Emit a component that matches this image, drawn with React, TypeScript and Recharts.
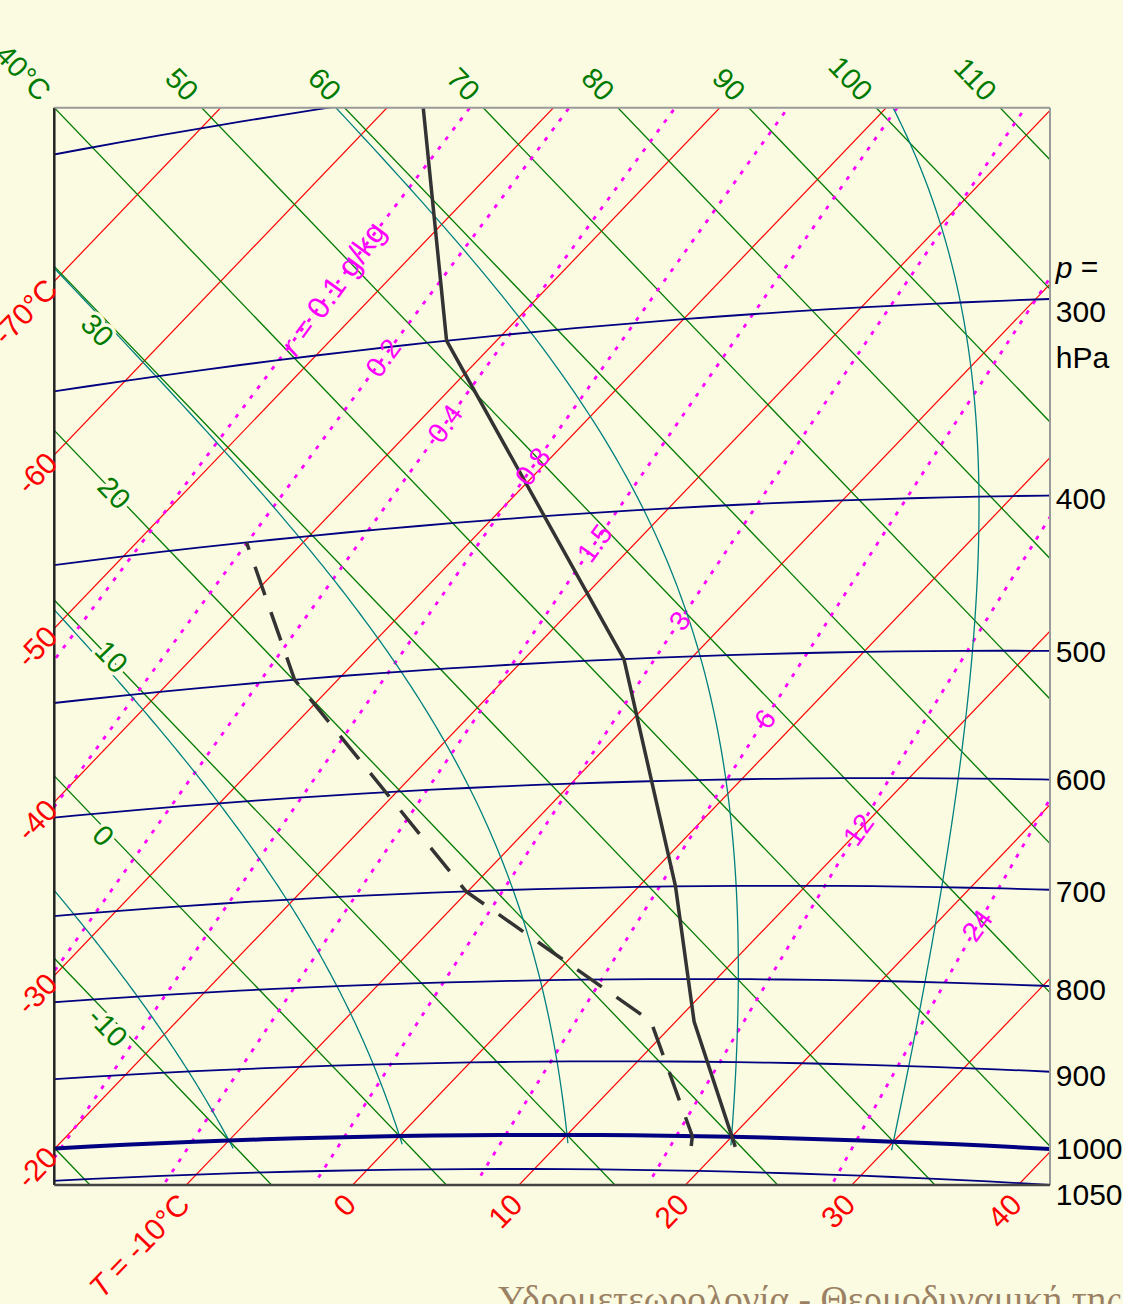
import React from 'react'
import { ComposedChart, Line, XAxis, YAxis, ReferenceLine, ReferenceDot } from 'recharts'

const BG = '#fbfbe2'
const FONT = '"Liberation Sans", Arial, sans-serif'

// tephigram projection: x = T + k ln(theta/theta0), y = T - k ln(theta/theta0)
const KAPPA = 0.2857
const THETA_REF = 313.15
const STRETCH = 281.73

// window in skewed units, upper-left corner is T = -80 °C on theta = 40 °C
const X_DOMAIN: [number, number] = [-80, 39.68]
const Y_DOMAIN: [number, number] = [-80, 44.14]

// background families
const isotherms = [-90, -80, -70, -60, -50, -40, -30, -20, -10, 0, 10, 20, 30, 40, 50]
const isentropes = [-30, -20, -10, 0, 10, 20, 30, 40, 50, 60, 70, 80, 90, 100, 110, 120]
const isobars = [200, 300, 400, 500, 600, 700, 800, 900, 1000, 1050]
const mixingRatios = [0.1, 0.2, 0.4, 0.8, 1.5, 3, 6, 12, 24]
const moistStartT = [-10, 0, 10, 20, 30]

// sounding (hPa, °C)
const tempP = [1014, 850, 700, 500, 300, 200]
const tempT = [20.8, 11.1, 2.2, -14.0, -43.0, -58.7]
const dewP = [1014, 1000, 850, 700, 500, 400]
const dewT = [18.1, 17.6, 8.5, -10.1, -32.6, -43.4]

// label sets
const pressureTicks = [300, 400, 500, 600, 700, 800, 900, 1000, 1050]
const pressureShift = [13, 3, 1, 0, 2, 3, 4, 0, 10]
const thetaTopTicks = [40, 50, 60, 70, 80, 90, 100, 110]
const thetaSideTicks = [30, 20, 10, 0, -10]
const thetaSideAt = [-73.7, -72.8, -73.3, -73.6, -72.8]
const thetaSideShift = [13, 0, -2, 6, 9]
const tempSideTicks = [-70, -60, -50, -40, -30, -20]
const tempBottomTicks = [-10, 0, 10, 20, 30, 40]
const mixingLabelP = [270, 305, 342, 370, 419, 474, 550, 646, 738]

type Pt = { x: number; y: number }

const sOf = (thetaC: number) => STRETCH * Math.log((thetaC + 273.15) / THETA_REF)

function toChart(t: number, p: number): Pt {
  const theta = (t + 273.15) * Math.pow(1000 / p, KAPPA)
  const s = STRETCH * Math.log(theta / THETA_REF)
  return { x: t + s, y: t - s }
}

// Tetens saturation vapour pressure, hPa
const esat = (t: number) => 6.1078 * Math.exp((17.27 * t) / (t + 237.3))
function dewFromE(e: number) {
  const l = Math.log(e / 6.1078)
  return (237.3 * l) / (17.27 - l)
}
const mixT = (r: number, p: number) => dewFromE(((r / 1000) * p) / (0.622 + r / 1000))

// saturated adiabats follow constant equivalent potential temperature
function thetaE(t: number, p: number) {
  const tk = t + 273.15
  const e = esat(t)
  const rs = (0.622 * e) / (p - e)
  return tk * Math.pow(1000 / p, KAPPA) * Math.exp((2.5e6 * rs) / (1004 * tk))
}

const range = (a: number, b: number, st: number) => {
  const out: number[] = []
  for (let v = a; st > 0 ? v <= b : v >= b; v += st) out.push(v)
  return out
}

function moistCurve(t0: number): Pt[] {
  const target = thetaE(t0, 1000)
  return range(1012, 150, -4).map((p) => {
    let lo = -140
    let hi = dewFromE(0.3 * p)
    for (let i = 0; i < 50; i++) {
      const mid = (lo + hi) / 2
      if (thetaE(mid, p) < target) lo = mid
      else hi = mid
    }
    return toChart(lo, p)
  })
}

function rightEdge(p: number) {
  let lo = -120, hi = 90
  for (let i = 0; i < 60; i++) {
    const mid = (lo + hi) / 2
    if (toChart(mid, p).x < X_DOMAIN[1]) lo = mid
    else hi = mid
  }
  return toChart(lo, p)
}

const isothermLines = isotherms.map((t) => [-75, 75].map((s) => ({ x: t + s, y: t - s })))
const isentropeLines = isentropes.map((th) => {
  const s = sOf(th)
  return [-110, 70].map((t) => ({ x: t + s, y: t - s }))
})
const isobarLines = isobars.map((p) => range(-110, 60, 2).map((t) => toChart(t, p)))
const mixingLines = mixingRatios.map((r) => range(1060, 150, -10).map((p) => toChart(mixT(r, p), p)))
const moistLines = moistStartT.map(moistCurve)
const tempLine = tempP.map((p, i) => toChart(tempT[i], p))
const dewLine = dewP.map((p, i) => toChart(dewT[i], p))

type Lbl = Pt & {
  text: string
  pre?: string
  angle: number
  anchor: 'start' | 'middle' | 'end'
  color: string
  size: number
  dy?: number
  halo?: boolean
}

const labels: Lbl[] = []
pressureTicks.forEach((p, i) => {
  const e = rightEdge(p)
  labels.push({ x: X_DOMAIN[1] + 0.7, y: e.y, text: String(p), angle: 0, anchor: 'start', color: '#000', size: 30, dy: pressureShift[i] })
  if (p === 300) {
    labels.push({ x: X_DOMAIN[1] + 0.7, y: e.y, pre: 'p', text: ' =', angle: 0, anchor: 'start', color: '#000', size: 30, dy: -32 })
    labels.push({ x: X_DOMAIN[1] + 0.7, y: e.y, text: 'hPa', angle: 0, anchor: 'start', color: '#000', size: 30, dy: 59 })
  }
})
thetaTopTicks.forEach((th) => {
  const cy = -81.2
  labels.push({
    x: cy + 2 * sOf(th), y: cy,
    pre: th === 40 ? 'θ' : undefined,
    text: th === 40 ? ' = 40°C' : String(th),
    angle: 46, anchor: 'end', color: '#007a00', size: 29, dy: -2,
  })
})
thetaSideTicks.forEach((th, i) => {
  const cx = thetaSideAt[i]
  labels.push({ x: cx, y: cx - 2 * sOf(th), text: String(th), angle: 46, anchor: 'middle', color: '#007a00', size: 29, dy: thetaSideShift[i], halo: true })
})
tempSideTicks.forEach((t) => {
  const cx = -80.3
  labels.push({ x: cx, y: 2 * t - cx, text: t === -70 ? '-70°C' : String(t), angle: -46, anchor: 'end', color: '#ff0000', size: 30 })
})
tempBottomTicks.forEach((t) => {
  const cy = 45.1
  labels.push({
    x: 2 * t - cy, y: cy,
    pre: t === -10 ? 'T' : undefined,
    text: t === -10 ? ' = -10°C' : String(t),
    angle: -46, anchor: 'end', color: '#ff0000', size: 30, dy: 8,
  })
})
mixingRatios.forEach((r, i) => {
  const p = mixingLabelP[i]
  const pt = toChart(mixT(r, p), p)
  labels.push({
    ...pt,
    pre: i === 0 ? 'r' : undefined,
    text: i === 0 ? ' = 0.1 g/kg' : String(r),
    angle: -54, anchor: 'middle', color: '#ff00ff', size: i === 0 ? 31 : 28,
  })
})

function labelShape(l: Lbl) {
  return (props: any) => {
    const { cx, cy } = props
    return (
      <text
        x={cx}
        y={cy}
        dy={l.dy ?? 0}
        transform={l.angle ? `rotate(${l.angle} ${cx} ${cy})` : undefined}
        textAnchor={l.anchor}
        dominantBaseline="central"
        fill={l.color}
        fontSize={l.size}
        fontFamily={FONT}
        stroke={l.halo ? BG : undefined}
        strokeWidth={l.halo ? 7 : undefined}
        strokeLinejoin="round"
        paintOrder="stroke"
      >
        {l.pre && <tspan fontStyle="italic">{l.pre}</tspan>}
        {l.text}
      </text>
    )
  }
}

const plainLine = (key: string, data: Pt[], stroke: string, width: number, dash?: string) => (
  <Line
    key={key}
    data={data}
    dataKey="y"
    type="linear"
    stroke={stroke}
    strokeWidth={width}
    strokeDasharray={dash}
    dot={false}
    activeDot={false}
    isAnimationActive={false}
  />
)

export default function App() {
  return (
    <div style={{ position: 'relative', width: 1123, height: 1304, background: BG, overflow: 'hidden' }}>
      <style>{`body{margin:0;background:${BG};overflow:hidden}`}</style>
      <ComposedChart width={1123} height={1304} margin={{ top: 107.7, right: 73, bottom: 119, left: 54.3 }}>
        <XAxis type="number" dataKey="x" domain={X_DOMAIN} allowDataOverflow hide />
        <YAxis type="number" dataKey="y" domain={Y_DOMAIN} allowDataOverflow reversed hide />
        {isothermLines.map((d, i) => plainLine(`t${i}`, d, '#ff0000', 1.2))}
        {isentropeLines.map((d, i) => plainLine(`th${i}`, d, '#007a00', 1.3))}
        {mixingLines.map((d, i) => plainLine(`r${i}`, d, '#ff00ff', 2.8, '4 8'))}
        {moistLines.map((d, i) => plainLine(`m${i}`, d, '#00807f', 1.3))}
        {isobarLines.map((d, i) => plainLine(`p${i}`, d, '#000080', isobars[i] === 1000 ? 4 : 1.8))}
        {plainLine('dew', dewLine, '#333333', 3.5, '30 18')}
        {plainLine('temp', tempLine, '#333333', 3.5)}
        <ReferenceLine x={X_DOMAIN[0]} stroke="#222" strokeWidth={2.5} ifOverflow="visible" />
        <ReferenceLine x={X_DOMAIN[1]} stroke="#9a9a9a" strokeWidth={2} ifOverflow="visible" />
        <ReferenceLine y={Y_DOMAIN[0]} stroke="#9a9a9a" strokeWidth={2} ifOverflow="visible" />
        <ReferenceLine y={Y_DOMAIN[1]} stroke="#444" strokeWidth={2.5} ifOverflow="visible" />
        {labels.map((l, i) => (
          <ReferenceDot key={`l${i}`} x={l.x} y={l.y} r={1} ifOverflow="visible" shape={labelShape(l)} />
        ))}
      </ComposedChart>
      <svg width={1123} height={1304} style={{ position: 'absolute', left: 0, top: 0, pointerEvents: 'none' }}>
        <text x={498} y={1312} fill="#9b8163" fontSize={37.5} fontFamily='"Liberation Serif", "DejaVu Serif", serif'>
          Υδρομετεωρολογία - Θερμοδυναμική της Ατμόσφαιρας
        </text>
      </svg>
    </div>
  )
}
